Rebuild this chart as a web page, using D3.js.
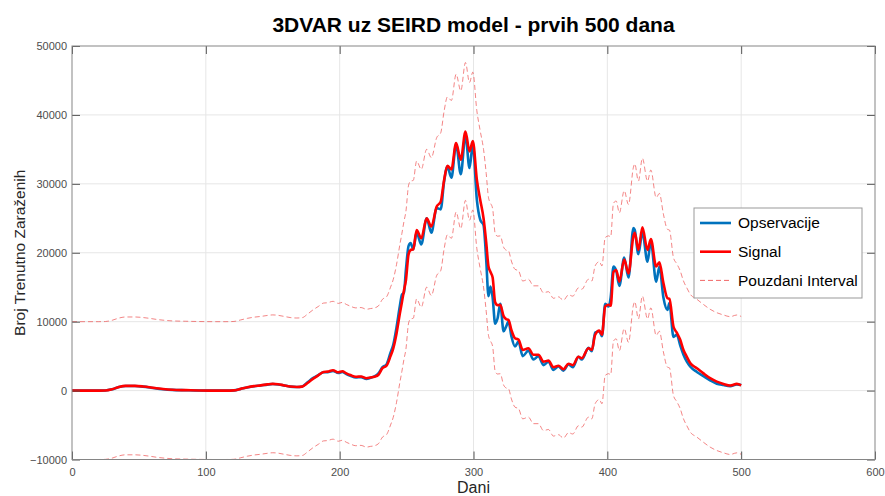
<!DOCTYPE html>
<html>
<head>
<meta charset="utf-8">
<script src="https://cdn.jsdelivr.net/npm/d3@7"></script>
<style>
  body { margin: 0; background: #fff; }
  text { font-family: "Liberation Sans", Arial, sans-serif; }
</style>
</head>
<body>
<svg width="885" height="496"></svg>
<script>
var days = [
    0, 10, 20, 25, 30, 35, 40, 47, 53, 58,
    63, 68, 75, 85, 95, 105, 115, 121, 126, 131,
    136, 141, 146, 150, 154, 158, 163, 168, 172, 176,
    180, 184, 188, 191, 195, 199, 202, 205, 208, 212,
    216, 220, 223, 226, 229, 232, 235, 238, 240, 242.5,
    245, 246.5, 248, 249.5, 251.5, 253, 255, 257.5, 261, 265,
    268.5, 272.5, 275.5, 278, 280.5, 283.5, 287, 290.5, 294, 297,
    299.5, 302.5, 305, 307.5, 309.5, 311.2, 312.7, 314.3, 316.2, 318,
    320, 322.5, 324.2, 326.2, 328.3, 331, 333.6, 336.8, 341, 344.8,
    348.5, 352.3, 356, 359.7, 363.5, 367.2, 371, 374.2, 378.4, 380.9,
    385.9, 388.4, 390.9, 394, 396, 398.4, 401, 402.5, 404.6, 406.6,
    409, 412.6, 415.8, 419.5, 420.5, 423.2, 426.2, 430, 432.5, 436.5,
    438.9, 441.9, 444.9, 446.4, 449.4, 451.9, 454.4, 456.9, 459.4, 461.9,
    466.9, 471.8, 476.8, 481.8, 486.8, 491.8, 496.8, 500
];

var observed = [
    0, 0, 0, 20, 200, 510, 670, 660, 580, 460,
    310, 200, 100, 50, 10, 0, 0, 30, 240, 460,
    630, 740, 870, 950, 890, 760, 580, 520, 600, 1200,
    1800, 2250, 2650, 2650, 2850, 2550, 2700, 2400, 2150, 1900,
    1950, 1700, 1850, 2050, 2500, 3400, 3800, 5500, 6600, 9200,
    12300, 13900, 14200, 17500, 21000, 21400, 20500, 22900, 21200, 25000,
    22900, 26500, 26300, 30300, 32500, 30900, 35700, 31400, 37100, 32300,
    35700, 27700, 24800, 24000, 19000, 13700, 15100, 13500, 9700, 10500,
    12600, 8600, 9200, 10000, 7900, 6400, 7100, 5000, 5800, 4500,
    5000, 3700, 4200, 3000, 3500, 2900, 3800, 3400, 4900, 4500,
    6200, 5700, 8400, 8600, 7900, 12600, 12200, 13500, 18000, 17400,
    15200, 19300, 16400, 23600, 23300, 19800, 23000, 18700, 21600, 15800,
    18000, 13500, 11700, 12700, 7800, 8100, 6600, 5200, 4200, 3500,
    2700, 2100, 1500, 1000, 800, 650, 900, 800
];

var signal = [
    0, 0, 0, 20, 200, 520, 680, 680, 600, 480,
    330, 220, 110, 60, 20, 0, 0, 30, 250, 480,
    650, 760, 900, 980, 920, 780, 600, 530, 580, 1100,
    1700, 2200, 2700, 2750, 2950, 2650, 2800, 2500, 2250, 2000,
    2050, 1800, 1900, 2000, 2300, 3250, 3600, 5000, 6100, 8300,
    11200, 12800, 14500, 16000, 19800, 20400, 20500, 23300, 22100, 25000,
    23800, 26700, 27400, 30500, 32600, 32100, 35900, 33500, 37600, 34700,
    36200, 30600, 27700, 25000, 21500, 18000, 17200, 16400, 12800, 12400,
    12450, 10800, 10400, 10250, 8800, 7600, 7400, 5900, 6150, 5200,
    5200, 4200, 4350, 3400, 3600, 3100, 3900, 3700, 4900, 4700,
    6150, 5900, 8100, 8700, 8100, 12200, 12450, 12300, 17200, 17500,
    15800, 19000, 17000, 22400, 22900, 20400, 23700, 20400, 22000, 18000,
    18600, 15600, 13400, 13300, 9300, 8400, 7400, 5900, 4900, 4000,
    3250, 2500, 1800, 1300, 970, 730, 970, 750
];

var upperBound = [
    10000, 10000, 10000, 10020, 10200, 10520, 10680, 10680, 10600, 10480,
    10330, 10220, 10110, 10060, 10020, 10000, 10000, 10030, 10250, 10480,
    10650, 10760, 10900, 10980, 10920, 10780, 10600, 10530, 10580, 11100,
    11700, 12200, 12700, 12750, 12950, 12650, 12800, 12500, 12250, 12000,
    12050, 11800, 11900, 12000, 12300, 13250, 13600, 15000, 16100, 18300,
    21200, 22800, 24500, 26000, 29800, 30400, 30500, 33300, 32100, 35000,
    33800, 36700, 37400, 40500, 42600, 42100, 45900, 43500, 47600, 44700,
    46200, 40600, 37700, 35000, 31500, 28000, 27200, 26400, 22800, 22400,
    22450, 20800, 20400, 20250, 18800, 17600, 17400, 15900, 16150, 15200,
    15200, 14200, 14350, 13400, 13600, 13100, 13900, 13700, 14900, 14700,
    16150, 15900, 18100, 18700, 18100, 22200, 22450, 22300, 27200, 27500,
    25800, 29000, 27000, 32400, 32900, 30400, 33700, 30400, 32000, 28000,
    28600, 25600, 23400, 23300, 19300, 18400, 17400, 15900, 14900, 14000,
    13250, 12500, 11800, 11300, 10970, 10730, 10970, 10750
];

var lowerBound = [
    -10000, -10000, -10000, -9980, -9800, -9480, -9320, -9320, -9400, -9520,
    -9670, -9780, -9890, -9940, -9980, -10000, -10000, -9970, -9750, -9520,
    -9350, -9240, -9100, -9020, -9080, -9220, -9400, -9470, -9420, -8900,
    -8300, -7800, -7300, -7250, -7050, -7350, -7200, -7500, -7750, -8000,
    -7950, -8200, -8100, -8000, -7700, -6750, -6400, -5000, -3900, -1700,
    1200, 2800, 4500, 6000, 9800, 10400, 10500, 13300, 12100, 15000,
    13800, 16700, 17400, 20500, 22600, 22100, 25900, 23500, 27600, 24700,
    26200, 20600, 17700, 15000, 11500, 8000, 7200, 6400, 2800, 2400,
    2450, 800, 400, 250, -1200, -2400, -2600, -4100, -3850, -4800,
    -4800, -5800, -5650, -6600, -6400, -6900, -6100, -6300, -5100, -5300,
    -3850, -4100, -1900, -1300, -1900, 2200, 2450, 2300, 7200, 7500,
    5800, 9000, 7000, 12400, 12900, 10400, 13700, 10400, 12000, 8000,
    8600, 5600, 3400, 3300, -700, -1600, -2600, -4100, -5100, -6000,
    -6750, -7500, -8200, -8700, -9030, -9270, -9030, -9250
];

var xTicks = [0, 100, 200, 300, 400, 500, 600];
var yTicks = [-10000, 0, 10000, 20000, 30000, 40000, 50000];
var legendNames = ['Opservacije', 'Signal', 'Pouzdani Interval'];

var plotLeft = 72, plotRight = 875, plotTop = 46, plotBottom = 459.5;

var svg = d3.select('svg');

var x = d3.scaleLinear().domain([0, 600]).range([plotLeft, plotRight]);
var y = d3.scaleLinear().domain([-10000, 50000]).range([plotBottom, plotTop]);

// grid
svg.append('g').selectAll('line')
    .data(xTicks.slice(1, -1))
    .enter().append('line')
    .attr('x1', function (d) { return x(d); })
    .attr('x2', function (d) { return x(d); })
    .attr('y1', plotTop).attr('y2', plotBottom)
    .attr('stroke', '#e6e6e6');

svg.append('g').selectAll('line')
    .data(yTicks.slice(1, -1))
    .enter().append('line')
    .attr('y1', function (d) { return y(d); })
    .attr('y2', function (d) { return y(d); })
    .attr('x1', plotLeft).attr('x2', plotRight)
    .attr('stroke', '#e6e6e6');

svg.append('clipPath').attr('id', 'plot')
    .append('rect')
    .attr('x', plotLeft).attr('y', plotTop)
    .attr('width', plotRight - plotLeft).attr('height', plotBottom - plotTop);

function lineOf(values) {
    return d3.line()
        .x(function (d, i) { return x(days[i]); })
        .y(function (d) { return y(d); })
        .curve(d3.curveMonotoneX)(values);
}

var lines = svg.append('g').attr('clip-path', 'url(#plot)');

lines.append('path')
    .attr('d', lineOf(observed))
    .attr('fill', 'none')
    .attr('stroke', '#0072bd')
    .attr('stroke-width', 2.6);

lines.append('path')
    .attr('d', lineOf(signal))
    .attr('fill', 'none')
    .attr('stroke', '#ff0000')
    .attr('stroke-width', 2.6);

[upperBound, lowerBound].forEach(function (b) {
    lines.append('path')
        .attr('d', lineOf(b))
        .attr('fill', 'none')
        .attr('stroke', '#ee5555')
        .attr('stroke-opacity', 0.8)
        .attr('stroke-width', 0.9)
        .attr('stroke-dasharray', '5,3');
});

// axes, ticks pointing inward like matlab
function styleAxis(g) {
    g.select('.domain').remove();
    g.selectAll('line').attr('stroke', '#555');
    g.selectAll('text').attr('fill', '#4d4d4d').style('font-size', '11px')
        .style('font-family', '"Liberation Sans", Arial, sans-serif');
}

svg.append('g')
    .attr('transform', 'translate(0,' + plotBottom + ')')
    .call(d3.axisBottom(x).tickValues(xTicks).tickSizeInner(-8).tickSizeOuter(0).tickPadding(9))
    .call(styleAxis);

svg.append('g')
    .attr('transform', 'translate(' + plotLeft + ',0)')
    .call(d3.axisLeft(y).tickValues(yTicks).tickFormat(d3.format('d')).tickSizeInner(-8).tickSizeOuter(0).tickPadding(5))
    .call(styleAxis);

svg.append('g')
    .attr('transform', 'translate(0,' + plotTop + ')')
    .call(d3.axisTop(x).tickValues(xTicks).tickFormat('').tickSizeInner(-8).tickSizeOuter(0))
    .call(styleAxis);

svg.append('g')
    .attr('transform', 'translate(' + plotRight + ',0)')
    .call(d3.axisRight(y).tickValues(yTicks).tickFormat('').tickSizeInner(-8).tickSizeOuter(0))
    .call(styleAxis);

svg.append('rect')
    .attr('x', plotLeft).attr('y', plotTop)
    .attr('width', plotRight - plotLeft).attr('height', plotBottom - plotTop)
    .attr('fill', 'none')
    .attr('stroke', '#858585');

// titles
svg.append('text')
    .attr('x', (plotLeft + plotRight) / 2).attr('y', 32)
    .attr('text-anchor', 'middle')
    .style('font-size', '21px').style('font-weight', 'bold')
    .attr('fill', '#000')
    .text('3DVAR uz SEIRD model - prvih 500 dana');

svg.append('text')
    .attr('x', (plotLeft + plotRight) / 2).attr('y', 493)
    .attr('text-anchor', 'middle')
    .style('font-size', '16px')
    .attr('fill', '#262626')
    .text('Dani');

svg.append('text')
    .attr('transform', 'translate(25,' + (plotTop + plotBottom) / 2 + ') rotate(-90)')
    .attr('text-anchor', 'middle')
    .style('font-size', '15.5px')
    .attr('fill', '#262626')
    .text('Broj Trenutno Zaraženih');

// legend
var legend = svg.append('g').attr('transform', 'translate(694,208)');

legend.append('rect')
    .attr('width', 168).attr('height', 90)
    .attr('fill', '#fff')
    .attr('stroke', '#999');

var item = legend.selectAll('.item')
    .data(legendNames)
    .enter().append('g')
    .attr('class', 'item')
    .attr('transform', function (d, i) { return 'translate(0,' + (15 + i * 28.7) + ')'; });

item.append('line')
    .attr('x1', 6).attr('x2', 37)
    .attr('stroke', function (d, i) { return ['#0072bd', '#ff0000', '#ee5555'][i]; })
    .attr('stroke-width', function (d, i) { return i < 2 ? 2.6 : 0.9; })
    .attr('stroke-dasharray', function (d, i) { return i == 2 ? '5,3' : null; });

item.append('text')
    .attr('x', 44)
    .attr('dy', '0.35em')
    .style('font-size', '15.5px')
    .attr('fill', '#000')
    .text(function (d) { return d; });
</script>
</body>
</html>
